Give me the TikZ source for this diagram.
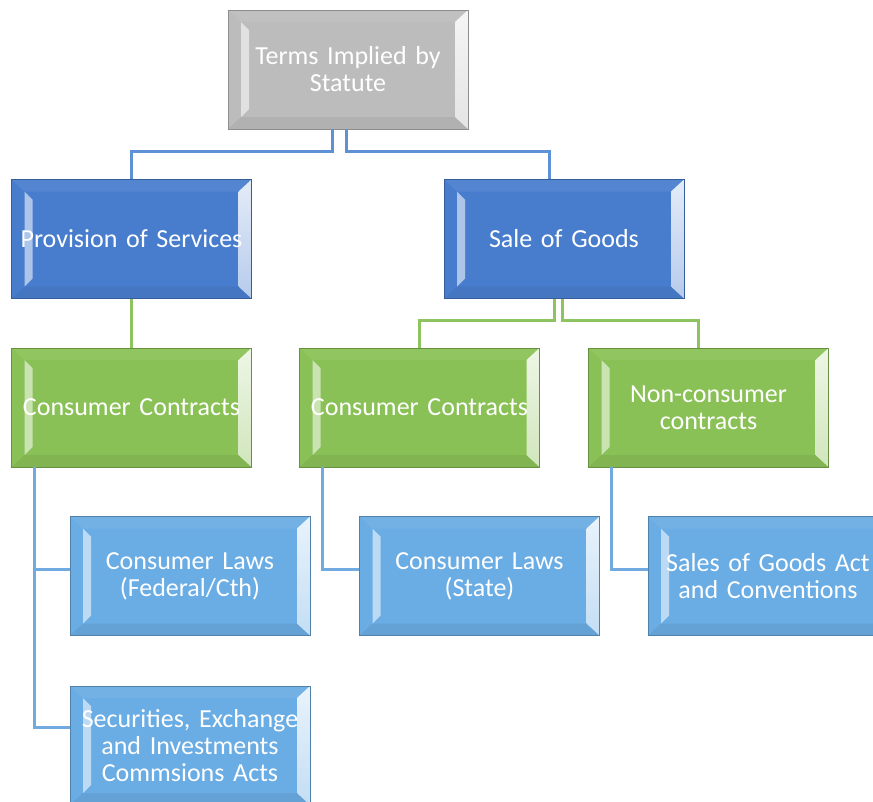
\documentclass[tikz,border=0pt]{standalone}
\usepackage{fontspec}
\setmainfont{Carlito}
\usetikzlibrary{positioning,calc}
\definecolor{TopGray}{RGB}{188,188,188}
\definecolor{DeepBlue}{RGB}{72,125,206}
\definecolor{LeafGreen}{RGB}{138,193,86}
\definecolor{SkyBlue}{RGB}{106,172,228}
\definecolor{LinkBlue}{RGB}{95,145,215}
\definecolor{LinkGreen}{RGB}{142,196,96}
\definecolor{LinkSky}{RGB}{112,170,224}
\tikzset{
  box/.style={rectangle,draw=#1!75!black,fill=#1,line width=0.8pt,
    minimum width=240pt,minimum height=119pt,inner sep=0pt,
    text width=236pt,align=center,text=white,font=\fontsize{26}{27}\selectfont,
    path picture={
      \coordinate (bl) at (path picture bounding box.south west);
      \coordinate (tr) at (path picture bounding box.north east);
      \coordinate (br) at (bl -| tr);
      \coordinate (tl) at (tr -| bl);
      \fill[#1!94!black] (bl) -- (br) -- ++(-13pt,12pt) -- ($(bl)+(13pt,12pt)$) -- cycle;
      \fill[#1!94!white] (tl) -- (tr) -- ++(-13pt,-12pt) -- ($(tl)+(13pt,-12pt)$) -- cycle;
      \fill[#1!45!white] ($(bl)+(13pt,12pt)$) -- ++(8pt,8pt) -- ($(tl)+(21pt,-20pt)$) -- ++(-8pt,8pt) -- cycle;
      \shade[top color=white!85!#1,bottom color=#1!40!white] (br) -- (tr) -- ++(-13pt,-12pt) -- ($(br)+(-13pt,12pt)$) -- cycle;
    }},
  wire/.style={draw=#1,line width=3pt},
}

\begin{document}
\begin{tikzpicture}[x=1pt,y=-1pt]
\path[use as bounding box,clip] (0,0) rectangle (873,801);
\node[box=TopGray] (tis) at (348,69.5) {Terms Implied by\\Statute};
\node[box=DeepBlue] (pos) at (131.5,239) {Provision of Services};
\node[box=DeepBlue] (sog) at (564,239) {Sale of Goods};
\node[box=LeafGreen] (cc1) at (131.5,407.5) {Consumer Contracts};
\node[box=LeafGreen] (cc2) at (419.5,407.5) {Consumer Contracts};
\node[box=LeafGreen] (ncc) at (708.5,407.5) {Non-consumer\\contracts};
\node[box=SkyBlue] (clf) at (190,576) {Consumer Laws\\(Federal/Cth)};
\node[box=SkyBlue] (cls) at (479.5,576) {Consumer Laws\\(State)};
\node[box=SkyBlue] (sga) at (768,576) {Sales of Goods Act\\and Conventions};
\node[box=SkyBlue] (sec) at (190,745.5) {Securities, Exchange\\and Investments\\Commsions Acts};
\draw[wire=LinkBlue] ([xshift=-16pt]tis.south) -- ++(0,22) -| (pos.north);
\draw[wire=LinkBlue] ([xshift=-2pt]tis.south) -- ++(0,22) -| ([xshift=-15pt]sog.north);
\draw[wire=LinkGreen] (pos.south) -- (cc1.north);
\draw[wire=LinkGreen] ([xshift=-10pt]sog.south) -- ++(0,22) -| (cc2.north);
\draw[wire=LinkGreen] ([xshift=-2pt]sog.south) -- ++(0,22) -| ([xshift=-10pt]ncc.north);
\draw[wire=LinkSky] ([xshift=23pt]cc1.south west) |- ([yshift=7pt]clf.west);
\draw[wire=LinkSky] ([xshift=23pt]cc1.south west) |- ([yshift=18.5pt]sec.west);
\draw[wire=LinkSky] ([xshift=23pt]cc2.south west) |- ([yshift=7pt]cls.west);
\draw[wire=LinkSky] ([xshift=23pt]ncc.south west) |- ([yshift=7pt]sga.west);
\end{tikzpicture}
\end{document}
